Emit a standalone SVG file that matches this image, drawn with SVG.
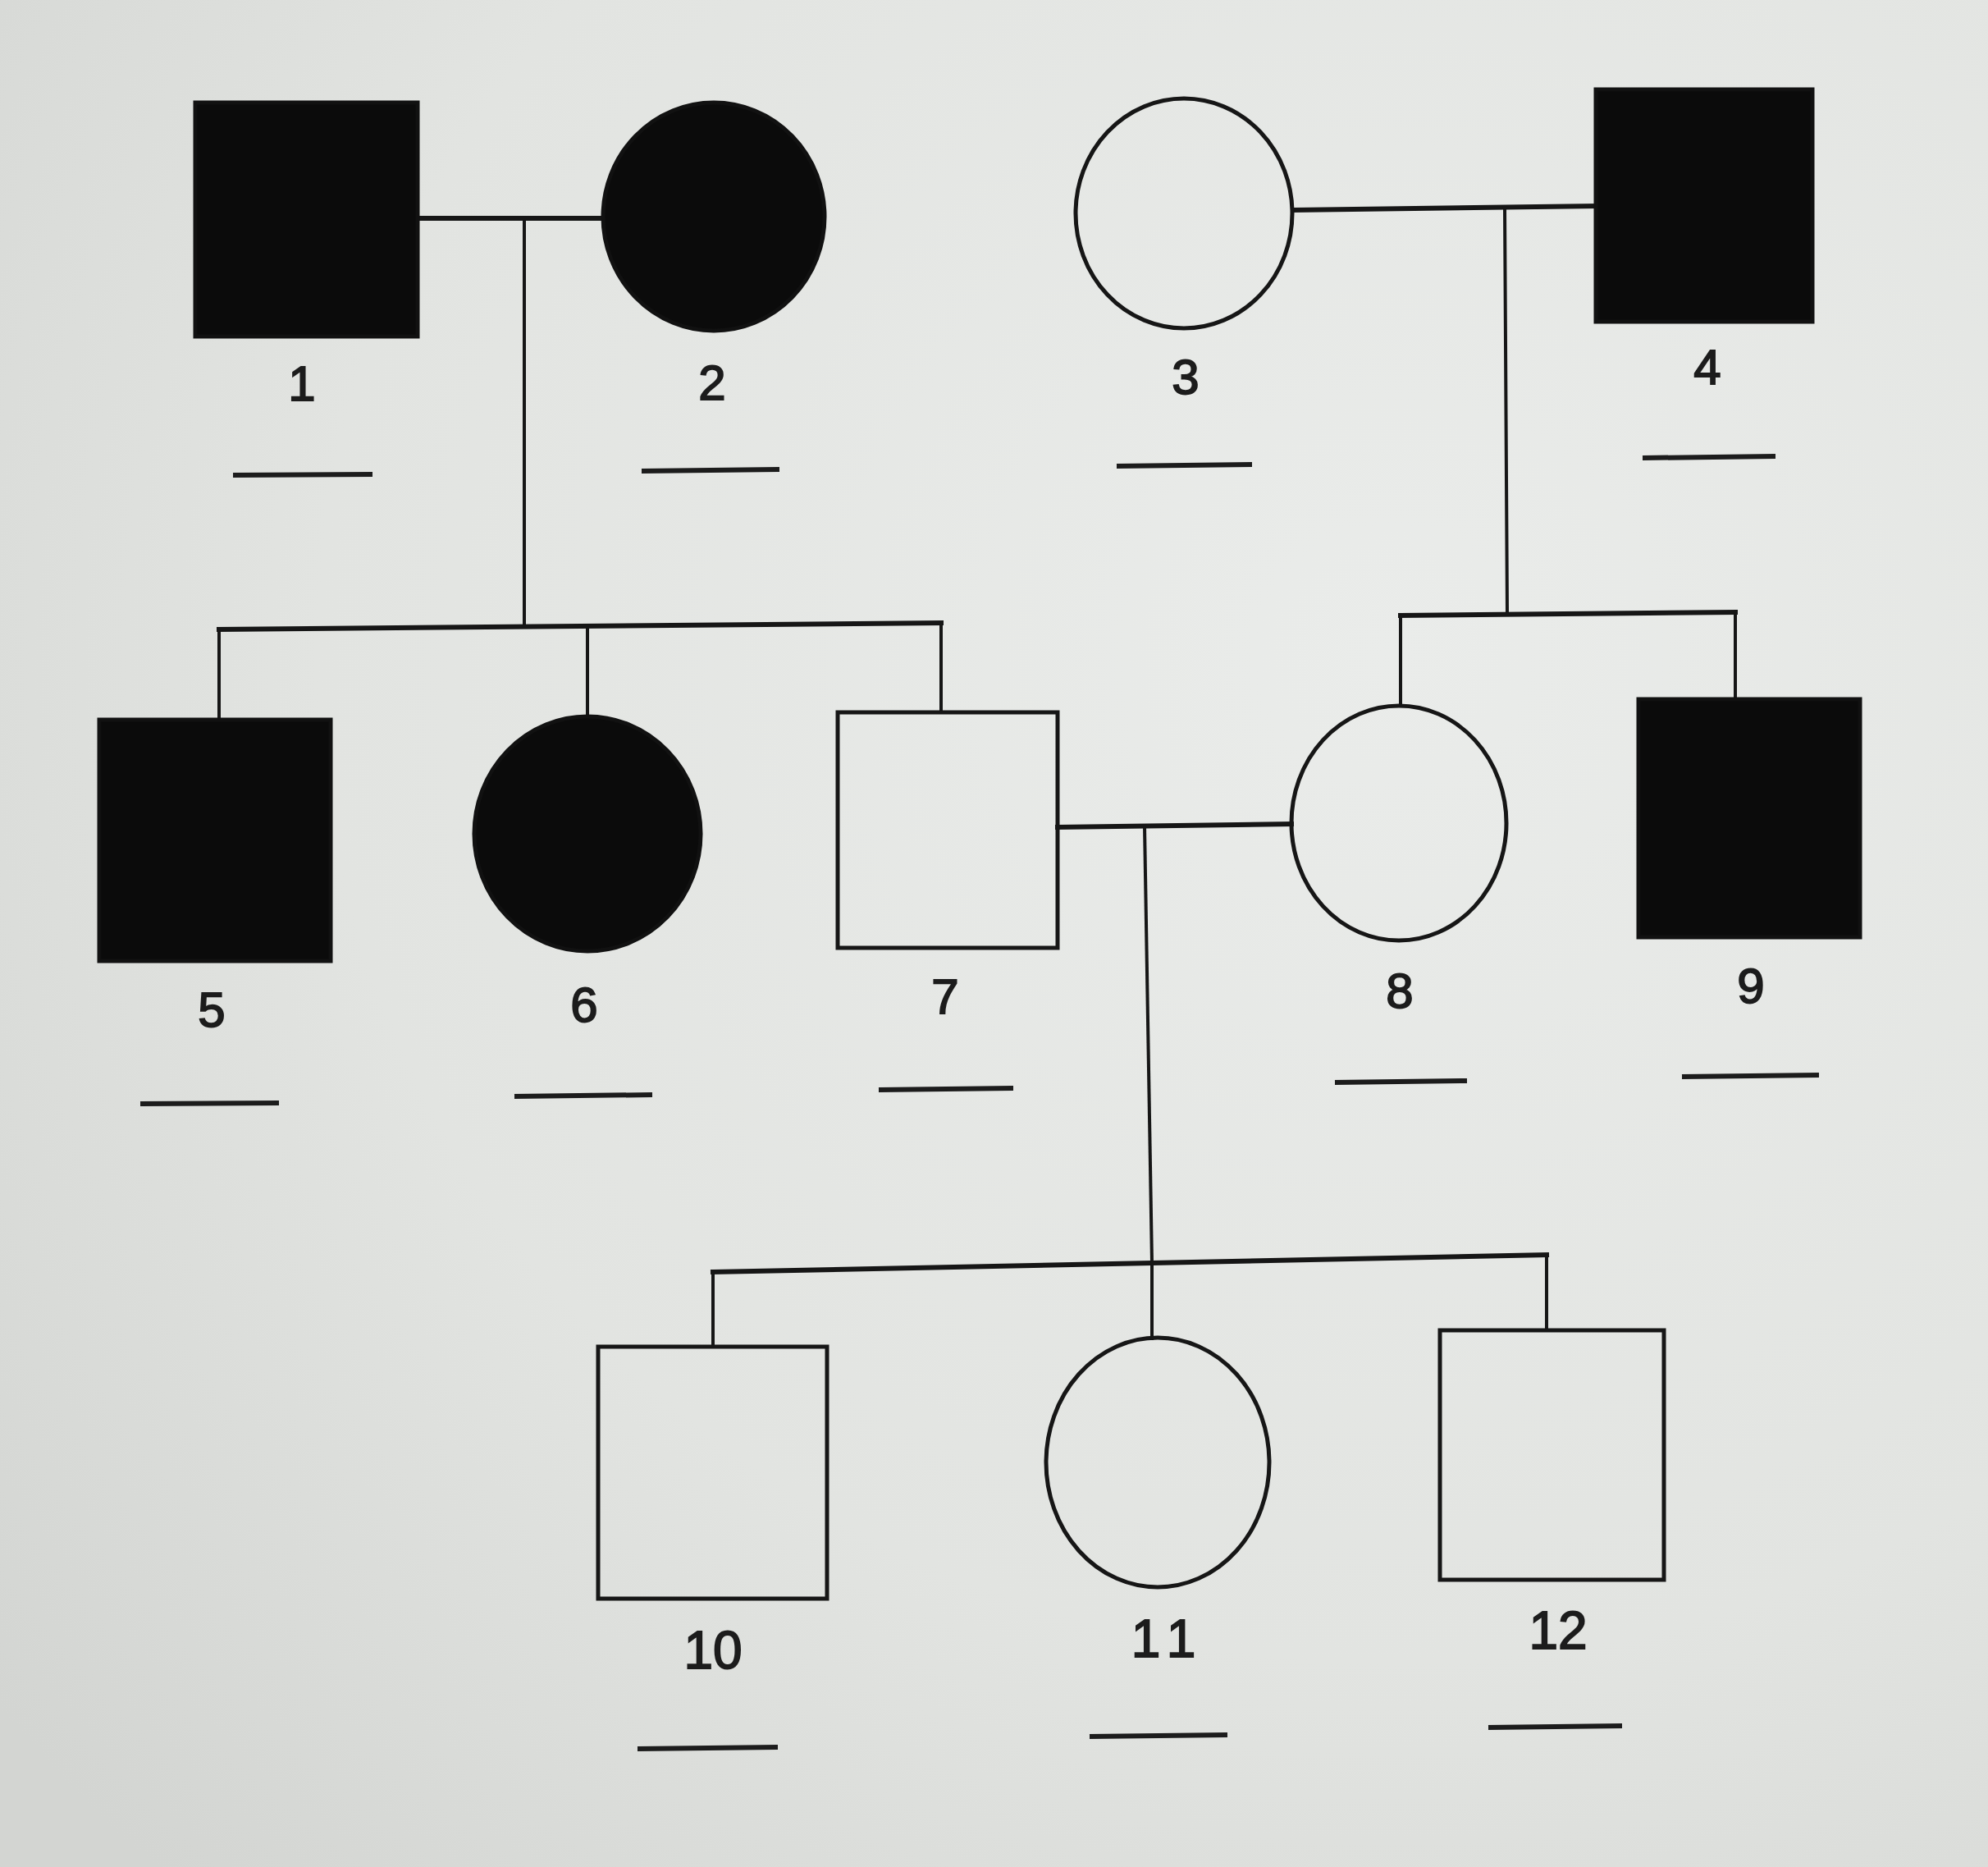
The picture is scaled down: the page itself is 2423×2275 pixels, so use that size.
<svg xmlns="http://www.w3.org/2000/svg" width="2423" height="2275" viewBox="0 0 2423 2275">
<defs>
<radialGradient id="bg" cx="0.7" cy="0.35" r="0.9">
<stop offset="0" stop-color="#eaecea"/>
<stop offset="0.6" stop-color="#e2e4e1"/>
<stop offset="1" stop-color="#d3d5d2"/>
</radialGradient>
</defs>
<style>
.aff{fill:#0b0b0b;stroke:#111;stroke-width:5}
.un{fill:none;stroke:#161616;stroke-width:5}
.ln{fill:none;stroke:#161616;stroke-width:4;stroke-linecap:square}
.mar{fill:none;stroke:#161616;stroke-width:6;stroke-linecap:square}
.ul{fill:none;stroke:#1c1c1c;stroke-width:6}
.lbl{font-family:"Liberation Sans",Arial,sans-serif;fill:#1c1c1c;stroke:#1c1c1c;stroke-width:1.8;text-anchor:middle}
</style>
<rect x="0" y="0" width="2423" height="2275" fill="url(#bg)"/>
<g id="connectors">
<line class="mar" x1="509" y1="266" x2="735" y2="266"/>
<line class="ln" x1="639" y1="266" x2="639" y2="764"/>
<line class="mar" x1="267" y1="767" x2="1147" y2="759"/>
<line class="ln" x1="267" y1="767" x2="267" y2="877"/>
<line class="ln" x1="716" y1="763" x2="716" y2="873"/>
<line class="ln" x1="1147" y1="759" x2="1147" y2="868"/>
<line class="mar" x1="1576" y1="256" x2="1945" y2="251"/>
<line class="ln" x1="1834" y1="253" x2="1837" y2="748"/>
<line class="mar" x1="1707" y1="750" x2="2115" y2="746"/>
<line class="ln" x1="1707" y1="750" x2="1707" y2="860"/>
<line class="ln" x1="2115" y1="746" x2="2115" y2="852"/>
<line class="mar" x1="1289" y1="1008" x2="1574" y2="1004"/>
<line class="ln" x1="1395" y1="1006" x2="1404" y2="1539"/>
<line class="mar" x1="869" y1="1550" x2="1885" y2="1529"/>
<line class="ln" x1="869" y1="1550" x2="869" y2="1641"/>
<line class="ln" x1="1404" y1="1539" x2="1404" y2="1631"/>
<line class="ln" x1="1885" y1="1529" x2="1885" y2="1621"/>
</g>
<g id="node1">
<rect class="aff" x="238" y="125" width="271" height="285"/>
<text class="lbl" x="368" y="488" font-size="60">1</text>
<line class="ul" x1="284" y1="579" x2="454" y2="578"/>
</g>
<g id="node2">
<ellipse class="aff" cx="870" cy="264" rx="135" ry="139"/>
<text class="lbl" x="868" y="487" font-size="60">2</text>
<line class="ul" x1="782" y1="574" x2="950" y2="572"/>
</g>
<g id="node3">
<ellipse class="un" cx="1443" cy="260" rx="132" ry="140"/>
<text class="lbl" x="1445" y="480" font-size="60">3</text>
<line class="ul" x1="1361" y1="568" x2="1526" y2="566"/>
</g>
<g id="node4">
<rect class="aff" x="1945" y="109" width="264" height="283"/>
<text class="lbl" x="2081" y="468" font-size="60">4</text>
<line class="ul" x1="2002" y1="558" x2="2164" y2="556"/>
</g>
<g id="node5">
<rect class="aff" x="121" y="877" width="282" height="294"/>
<text class="lbl" x="258" y="1251" font-size="60">5</text>
<line class="ul" x1="171" y1="1345" x2="340" y2="1344"/>
</g>
<g id="node6">
<ellipse class="aff" cx="716" cy="1016" rx="138" ry="143"/>
<text class="lbl" x="712" y="1245" font-size="60">6</text>
<line class="ul" x1="627" y1="1336" x2="795" y2="1334"/>
</g>
<g id="node7">
<rect class="un" x="1021" y="868" width="268" height="287"/>
<text class="lbl" x="1152" y="1235" font-size="60">7</text>
<line class="ul" x1="1071" y1="1328" x2="1235" y2="1326"/>
</g>
<g id="node8">
<ellipse class="un" cx="1705" cy="1003" rx="131" ry="143"/>
<text class="lbl" x="1706" y="1228" font-size="60">8</text>
<line class="ul" x1="1627" y1="1319" x2="1788" y2="1317"/>
</g>
<g id="node9">
<rect class="aff" x="1997" y="852" width="270" height="290"/>
<text class="lbl" x="2134" y="1222" font-size="60">9</text>
<line class="ul" x1="2050" y1="1312" x2="2217" y2="1310"/>
</g>
<g id="node10">
<rect class="un" x="729" y="1641" width="279" height="307"/>
<text class="lbl" x="869" y="2033" font-size="64">10</text>
<line class="ul" x1="777" y1="2131" x2="948" y2="2129"/>
</g>
<g id="node11">
<ellipse class="un" cx="1411" cy="1782" rx="136" ry="152"/>
<text class="lbl" x="1424" y="2019" font-size="64" letter-spacing="12">11</text>
<line class="ul" x1="1328" y1="2116" x2="1496" y2="2114"/>
</g>
<g id="node12">
<rect class="un" x="1755" y="1621" width="273" height="304"/>
<text class="lbl" x="1899" y="2009" font-size="64">12</text>
<line class="ul" x1="1814" y1="2105" x2="1977" y2="2103"/>
</g>
</svg>
